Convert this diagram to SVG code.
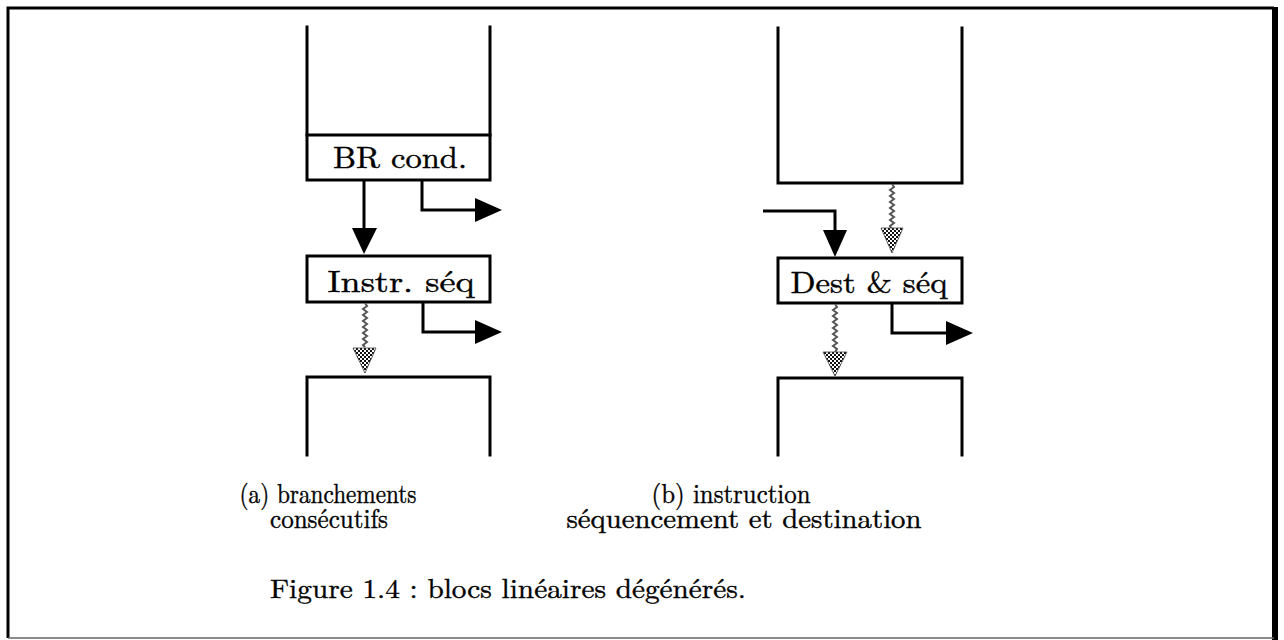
<svg xmlns="http://www.w3.org/2000/svg" width="1284" height="640" viewBox="0 0 1284 640">
<style>
.ln{fill:none;stroke:#000;stroke-width:3;stroke-linecap:square}
.box{fill:#fff;stroke:#000;stroke-width:3}
.lbl{font-family:"Latin Modern Roman","Liberation Serif","DejaVu Serif",serif;font-size:30px;fill:#000;stroke:#000;stroke-width:0.4}
.cap{font-family:"Latin Modern Roman","Liberation Serif","DejaVu Serif",serif;font-size:27px;fill:#000;stroke:#000;stroke-width:0.4}
.wav{fill:none;stroke:#555;stroke-width:2}
.ah{fill:#000}
.gh{fill:url(#dots);stroke:#444;stroke-width:0.8}
</style>
<defs>
<pattern id="dots" width="4" height="4" patternUnits="userSpaceOnUse">
<rect width="4" height="4" fill="#fff"/>
<rect width="2" height="2" fill="#111"/>
<rect x="2" y="2" width="2" height="2" fill="#111"/>
</pattern>
</defs>
<g id="frame">
<path d="M8,638 L8,8 L1274,8" fill="none" stroke="#000" stroke-width="3"/>
<line x1="1275" y1="7" x2="1275" y2="640" stroke="#000" stroke-width="6"/>
<line x1="8" y1="638" x2="1274" y2="638" stroke="#666" stroke-width="1.5"/>
</g>
<g id="a-top-block">
<path class="ln" d="M307,27 L307,135 M490,27 L490,135"/>
</g>
<g id="a-br-cond">
<rect class="box" x="307" y="135" width="183" height="45"/>
<text class="lbl" x="400" y="168" text-anchor="middle" textLength="134" lengthAdjust="spacingAndGlyphs">BR cond.</text>
</g>
<g id="a-instr-seq">
<rect class="box" x="307" y="256" width="183" height="46"/>
<text class="lbl" x="401" y="292" text-anchor="middle" textLength="147" lengthAdjust="spacingAndGlyphs">Instr. séq</text>
</g>
<g id="a-bottom-block">
<path class="ln" d="M307,455 L307,377 L490,377 L490,455"/>
</g>
<g id="b-top-block">
<path class="ln" d="M778,28 L778,183 L962,183 L962,28"/>
</g>
<g id="b-dest-seq">
<rect class="box" x="778" y="258" width="184" height="45"/>
<text class="lbl" x="869" y="293" text-anchor="middle" textLength="157" lengthAdjust="spacingAndGlyphs">Dest &amp; séq</text>
</g>
<g id="b-bottom-block">
<path class="ln" d="M778,455 L778,378 L962,378 L962,455"/>
</g>
<g id="connectors">
<line x1="364" y1="181" x2="364" y2="230" stroke="#000" stroke-width="3"/>
<polygon class="ah" points="352,228 377,228 364,254"/>
<path d="M422,181 L422,210 L478,210" fill="none" stroke="#000" stroke-width="3"/>
<polygon class="ah" points="475,198 502,210 475,222"/>
<path d="M423,303 L423,332 L478,332" fill="none" stroke="#000" stroke-width="3"/>
<polygon class="ah" points="475,320 502,332 475,344"/>
<path class="wav" d="M365,303 l2,3 l-4,3 l4,3 l-4,3 l4,3 l-4,3 l4,3 l-4,3 l4,3 l-4,3 l4,3 l-4,3 l4,3 l-4,3 l2,2"/>
<polygon class="gh" points="353,348 376,348 365,373"/>
<path d="M763,211 L835,211 L835,232" fill="none" stroke="#000" stroke-width="3"/>
<polygon class="ah" points="823,230 847,230 835,257"/>
<path class="wav" d="M892,184 l2,3 l-4,3 l4,3 l-4,3 l4,3 l-4,3 l4,3 l-4,3 l4,3 l-4,3 l4,3 l-4,3 l4,3 l-4,3 l2,3"/>
<polygon class="gh" points="881,228 903,228 892,253"/>
<path d="M892,304 L892,333 L948,333" fill="none" stroke="#000" stroke-width="3"/>
<polygon class="ah" points="946,321 973,333 946,345"/>
<path class="wav" d="M835,304 l2,3 l-4,3 l4,3 l-4,3 l4,3 l-4,3 l4,3 l-4,3 l4,3 l-4,3 l4,3 l-4,3 l4,3 l-4,3 l4,3 l-2,3"/>
<polygon class="gh" points="823,352 847,352 835,376"/>
</g>
<g id="captions">
<text class="cap" x="328" y="503" text-anchor="middle" textLength="177" lengthAdjust="spacingAndGlyphs">(a) branchements</text>
<text class="cap" x="329" y="528" text-anchor="middle" textLength="118" lengthAdjust="spacingAndGlyphs">consécutifs</text>
<text class="cap" x="731" y="503" text-anchor="middle" textLength="159" lengthAdjust="spacingAndGlyphs">(b) instruction</text>
<text class="cap" x="744" y="528" text-anchor="middle" textLength="355" lengthAdjust="spacingAndGlyphs">séquencement et destination</text>
<text class="cap" x="508" y="598" text-anchor="middle" textLength="476" lengthAdjust="spacingAndGlyphs">Figure 1.4 : blocs linéaires dégénérés.</text>
</g>
</svg>
